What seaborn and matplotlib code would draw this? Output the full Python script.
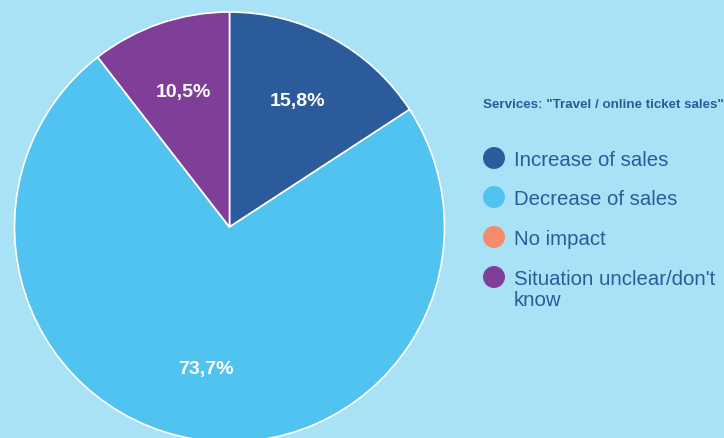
import matplotlib
matplotlib.use("Agg")
import matplotlib.pyplot as plt
import seaborn as sns

# Survey responses for the travel / online ticket sales sector
categories = ["Increase of sales", "Decrease of sales", "No impact", "Situation unclear/don't\nknow"]
shares = [15.8, 73.7, 0.0, 10.5]
title = 'Services: "Travel / online ticket sales"'

palette = sns.color_palette(["#2c5b9c", "#50c3f0", "#f58b6a", "#7f3f98"])
bg = "#a9e1f7"
text_color = "#2d5a9b"

sns.set_theme(style="white")
plt.rcParams["font.family"] = ["Liberation Sans", "DejaVu Sans"]

W, H = 724, 439
fig = plt.figure(figsize=(W / 100, H / 100), dpi=100, facecolor=bg)

# Pie axes: centre at (229.5, 228) px from top-left, radius 215 px
cx, cy, r = 229.5, 228, 215
ax = fig.add_axes([(cx - r) / W, (H - cy - r) / H, 2 * r / W, 2 * r / H])
ax.set_facecolor("none")


def fmt(p):
    return "" if p < 0.05 else f"{p:.1f}%".replace(".", ",")


wedges, texts, autotexts = ax.pie(
    shares,
    colors=palette,
    startangle=90,
    counterclock=False,
    autopct=fmt,
    pctdistance=0.667,
    radius=1.0,
    wedgeprops=dict(edgecolor="white", linewidth=1.2),
    textprops=dict(color="white", fontsize=14, fontweight="bold"),
)
ax.set_xlim(-1, 1)
ax.set_ylim(-1, 1)
ax.set_aspect("equal")
ax.axis("off")

# Legend drawn in a pixel-space overlay
lax = fig.add_axes([0, 0, 1, 1])
lax.set_xlim(0, W)
lax.set_ylim(H, 0)
lax.axis("off")
lax.patch.set_alpha(0)

lax.text(483, 105, title, ha="left", va="center", fontsize=9.6, fontweight="bold", color=text_color)

row_y = [159, 198, 238, 278]
lax.scatter([494] * len(row_y), row_y, s=250, c=palette, linewidths=0, zorder=3)
for y, lab in zip(row_y, categories):
    lax.text(514, y - 8, lab, ha="left", va="top", fontsize=14.7, color=text_color, linespacing=1.15)

fig.savefig("out.png", dpi=100, facecolor=bg)
